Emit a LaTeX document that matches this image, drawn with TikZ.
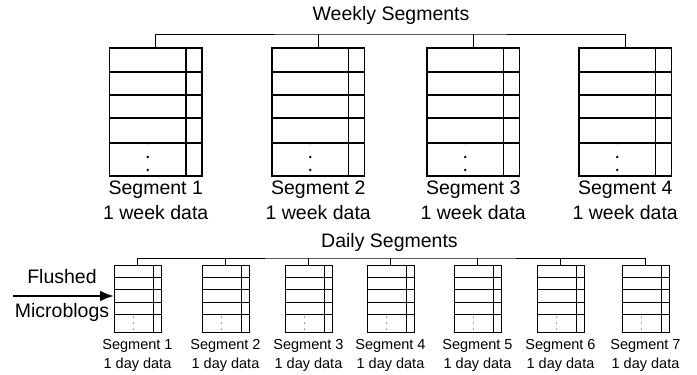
\documentclass[tikz,border=0pt]{standalone}
\usepackage{fontspec}
\setmainfont{Liberation Sans}
\usetikzlibrary{calc,arrows.meta}
\begin{document}
\begin{tikzpicture}[x=1pt,y=-1pt,
  wbox/.style={draw,line width=1.8pt,minimum width=92.5pt,minimum height=128pt,inner sep=0pt,outer sep=0pt},
  dbox/.style={draw,line width=0.8pt,minimum width=47pt,minimum height=67pt,inner sep=0pt,outer sep=0pt},
  big/.style={font=\fontsize{19.5}{22}\selectfont,inner sep=0pt},
  small/.style={font=\fontsize{14.5}{17}\selectfont,inner sep=0pt,align=center},
  tree/.style={line width=0.8pt},
  wline/.style={line width=1.8pt},
  dline/.style={line width=0.8pt}]
\useasboundingbox (0,0) rectangle (697,375);
% ---------- Weekly ----------
\node[big] (wtitle) at (391,15) {Weekly Segments};
\coordinate (wt) at (391,34);
\foreach \i/\L in {1/109.5,2/272,3/427,4/579}{
  \node[wbox] (w\i) at (\L+46.25,112) {};
  \draw[wline] ([xshift=-16pt]w\i.north east) -- ([xshift=-16pt]w\i.south east);
  \foreach \o in {24,47,70,95}{
    \draw[wline] ([yshift=-\o pt]w\i.north west) -- ([yshift=-\o pt]w\i.north east);
  }
  \fill[gray!60] ($(w\i.north west)+(38.25,97)$) circle (0.6pt);
  \fill ($(w\i.north west)+(38.25,109)$) circle (1.3pt);
  \fill ($(w\i.north west)+(38.25,122)$) circle (1.3pt);
  \node[big] (wl\i) at (\L+46.25,190) {Segment \i};
  \node[big] (wd\i) at (\L+46.25,213) {1 week data};
}
\draw[tree] (w1.north) |- (wt) -| (w4.north);
\draw[tree] (w2.north) -- (w2.north |- wt);
\draw[tree] (w3.north) -- (w3.north |- wt);
% ---------- Daily ----------
\node[big] (dtitle) at (389.5,242) {Daily Segments};
\coordinate (dt) at (389.5,258);
\foreach \i/\L in {1/114,2/202,3/285,4/367,5/454,6/537,7/622}{
  \node[dbox] (d\i) at (\L+23.5,298.5) {};
  \draw[dline] ([xshift=-8pt]d\i.north east) -- ([xshift=-8pt]d\i.south east);
  \foreach \o in {12.5,24.5,37,49}{
    \draw[dline] ([yshift=-\o pt]d\i.north west) -- ([yshift=-\o pt]d\i.north east);
  }
  \fill ($(d\i.north west)+(19.5,52)$) circle (0.5pt);
  \fill ($(d\i.north west)+(19.5,58)$) circle (0.5pt);
  \fill ($(d\i.north west)+(19.5,64)$) circle (0.5pt);
  \node[small] (dl\i) at (\L+23.5,346) {Segment \i};
  \node[small] (dd\i) at (\L+23.5,365) {1 day data};
}
\draw[tree] (d1.north) |- (dt) -| (d7.north);
\foreach \i in {2,...,6}{
  \draw[tree] (d\i.north) -- (d\i.north |- dt);
}
% ---------- Flushed microblogs ----------
\node[big] (fl) at (62,277) {Flushed};
\node[big] (mb) at (62,312) {Microblogs};
\coordinate (src) at (13,296);
\draw[line width=2.5pt,-{Latex[length=14pt,width=11pt]}] (src) -- (src -| d1.west);
\end{tikzpicture}
\end{document}
